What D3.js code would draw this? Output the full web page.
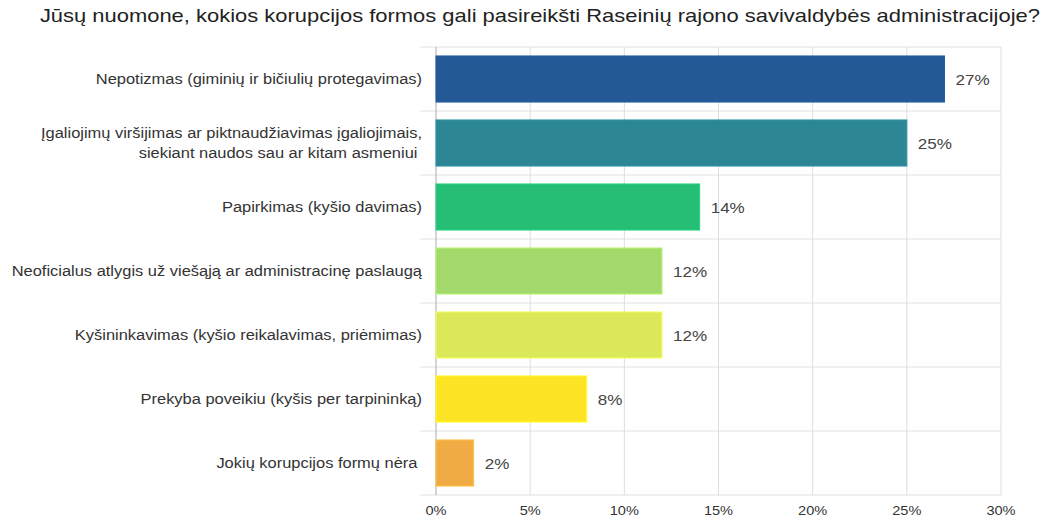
<!DOCTYPE html>
<html><head><meta charset="utf-8">
<script src="https://cdn.jsdelivr.net/npm/d3@7"></script>
<style>body{margin:0;background:#fff}svg{display:block;font-family:"Liberation Sans",Arial,sans-serif}</style>
</head><body>
<svg id="c" width="1047" height="519"></svg>
<script>
const title = "Jūsų nuomone, kokios korupcijos formos gali pasireikšti Raseinių rajono savivaldybės administracijoje?";
const categories = [
  ["Nepotizmas (giminių ir bičiulių protegavimas)"],
  ["Įgaliojimų viršijimas ar piktnaudžiavimas įgaliojimais,", "siekiant naudos sau ar kitam asmeniui "],
  ["Papirkimas (kyšio davimas)"],
  ["Neoficialus atlygis už viešąją ar administracinę paslaugą"],
  ["Kyšininkavimas (kyšio reikalavimas, priėmimas)"],
  ["Prekyba poveikiu (kyšis per tarpininką)"],
  ["Jokių korupcijos formų nėra "]
];
const values = [27, 25, 14, 12, 12, 8, 2];
const colors = ["#1b5291", "#24818f", "#1dba6e", "#9fd764", "#d8e752", "#fde31c", "#f0a83c"];
const ticks = [0, 5, 10, 15, 20, 25, 30];

const svg = d3.select("#c");
const L = 436, R = 1001, T = 47, B = 495;
const x = d3.scaleLinear().domain([0, 30]).range([L, R]);
const y = d3.scaleBand().domain(d3.range(values.length)).range([T, B]).paddingInner(0.28).paddingOuter(0.14);

// stretched text helper (reference text is horizontally widened)
function stext(px, py, str, size, sx, anchor, fill) {
  const g = svg.append("g").attr("transform", `translate(${px},${py}) scale(${sx},1)`);
  g.append("text").attr("x", 0).attr("y", 0).attr("text-anchor", anchor)
    .attr("font-size", size).attr("fill", fill)
    .attr("xml:space", "preserve").style("white-space", "pre").text(str);
  return g;
}

stext(1040, 22, title, 18, 1.22, "end", "#222");

// horizontal separators
const step = (B - T) / values.length;
d3.range(values.length + 1).forEach(i => {
  svg.append("line").attr("x1", L - 16).attr("x2", R).attr("y1", T + i * step).attr("y2", T + i * step)
    .attr("stroke", "#e0e0e0").attr("stroke-width", 1);
});
// vertical grid
ticks.forEach(t => {
  svg.append("line").attr("x1", x(t)).attr("x2", x(t)).attr("y1", T).attr("y2", B)
    .attr("stroke", t === 0 ? "#aaa" : "#dedede").attr("stroke-width", 1);
});

svg.append("g").selectAll("rect").data(values).join("rect")
  .attr("x", x(0)).attr("y", (d, i) => y(i)).attr("width", d => x(d) - x(0)).attr("height", y.bandwidth())
  .attr("fill", (d, i) => colors[i]).attr("fill-opacity", 0.96)
  .attr("stroke", (d, i) => d3.color(colors[i]).brighter(0.4)).attr("stroke-width", 1);

values.forEach((d, i) => {
  stext(x(d) + 11, y(i) + y.bandwidth() / 2 + 5.5, d + "%", 15.5, 1.1, "start", "#444");
});

categories.forEach((lines, i) => {
  const cy = y(i) + y.bandwidth() / 2;
  const n = lines.length, lh = 20;
  lines.forEach((ln, j) => {
    stext(422, cy + (j - (n - 1) / 2) * lh + 4.5, ln, 14, 1.175, "end", "#333");
  });
});

ticks.forEach(t => {
  stext(x(t), B + 20, t + "%", 13.5, 1.08, "middle", "#333");
});
</script>
</body></html>
